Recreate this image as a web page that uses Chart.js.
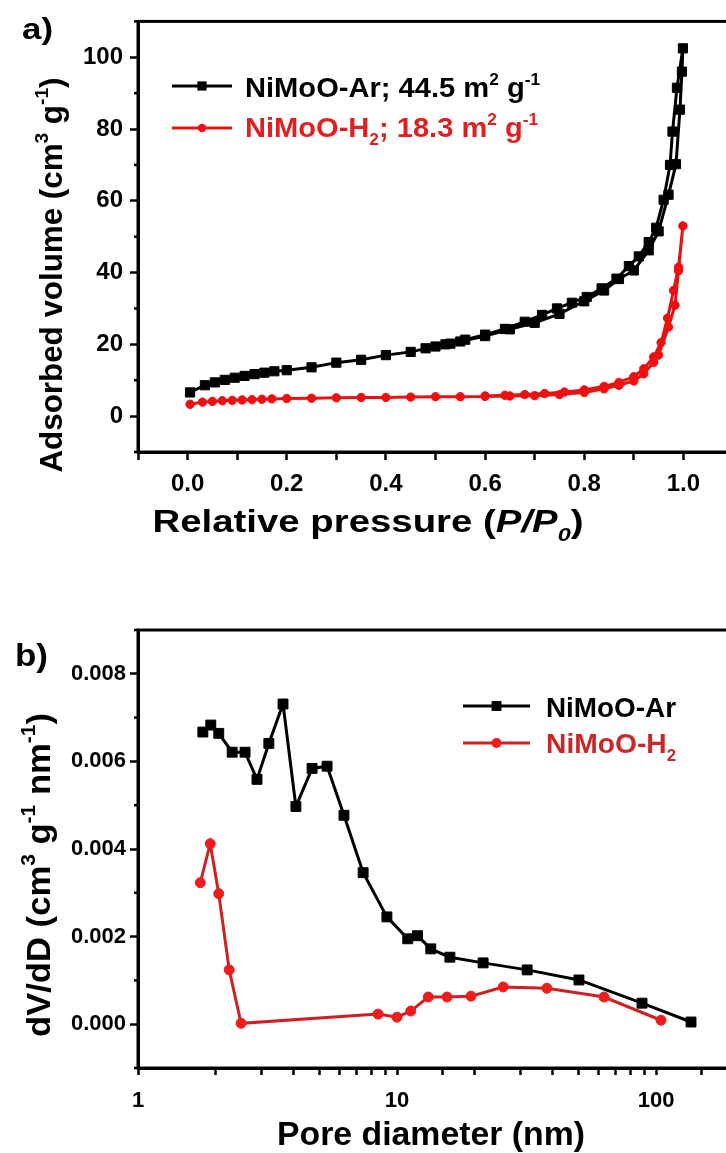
<!DOCTYPE html>
<html>
<head>
<meta charset="utf-8">
<script src="https://cdn.jsdelivr.net/npm/chart.js@4.4.1/dist/chart.umd.min.js"></script>
<style>
  html, body { margin: 0; padding: 0; background: #fff; overflow: hidden; }
  #wrap { position: relative; width: 726px; height: 1153px; overflow: hidden; }
  canvas { position: absolute; left: 0; }
  #chartA { top: 0; }
  #chartB { top: 580px; }
</style>
</head>
<body>
<div id="wrap">
  <canvas id="chartA" width="760" height="580"></canvas>
  <canvas id="chartB" width="760" height="573"></canvas>
</div>
<script>
// a) N2 isotherms, relative pressure vs adsorbed volume
var arAdsP = [0.005,0.035,0.055,0.075,0.095,0.115,0.135,0.155,0.175,0.20,0.25,0.30,0.35,0.40,0.45,0.50,0.53,0.55,0.60,0.65,0.70,0.75,0.80,0.84,0.87,0.90,0.93,0.95,0.97,0.985,0.993,0.997,0.999];
var arAdsV = [6.6,8.6,9.4,10.1,10.7,11.2,11.7,12.1,12.5,12.8,13.6,14.9,15.7,17.0,17.9,19.4,20.2,20.8,22.3,24.2,26.0,28.5,32.0,35.0,38.2,40.6,46.2,51.5,61.7,70.2,85.4,96.0,102.5];
var arDesP = [0.987,0.978,0.973,0.96,0.945,0.93,0.91,0.89,0.865,0.835,0.805,0.775,0.745,0.715,0.68,0.64,0.60,0.56,0.52,0.48];
var arDesV = [91.5,79.3,70.0,60.3,52.5,48.5,44.5,41.8,38.3,35.6,33.2,31.6,30.0,28.2,26.3,24.3,22.7,21.3,20.0,18.9];

var h2AdsP = [0.005,0.03,0.05,0.07,0.09,0.11,0.13,0.15,0.17,0.20,0.25,0.30,0.35,0.40,0.45,0.50,0.55,0.60,0.65,0.70,0.75,0.80,0.84,0.87,0.90,0.92,0.94,0.95,0.97,0.983,0.99,0.999];
var h2AdsV = [3.3,3.9,4.1,4.3,4.4,4.5,4.6,4.7,4.8,4.9,5.0,5.1,5.2,5.2,5.3,5.4,5.4,5.5,5.6,5.7,6.0,6.6,7.6,8.6,9.8,11.8,15.0,17.0,24.8,30.9,40.5,53.0];
var h2DesP = [0.99,0.98,0.968,0.955,0.94,0.92,0.90,0.87,0.84,0.80,0.76,0.72,0.68,0.64,0.60];
var h2DesV = [41.5,35.0,27.3,20.5,16.5,13.2,11.0,9.4,8.3,7.3,6.7,6.3,6.0,5.8,5.6];

// b) pore size distribution
var poreAr = [1.78,1.91,2.05,2.31,2.59,2.88,3.2,3.63,4.07,4.7,5.37,6.24,7.4,9.14,11.0,12.0,13.5,16.0,21.5,31.8,50.4,88.3,136.5];
var dvAr = [0.00667,0.00683,0.00664,0.00621,0.00621,0.00559,0.00641,0.00731,0.00497,0.00584,0.00589,0.00477,0.00346,0.00245,0.00195,0.00202,0.00172,0.00153,0.00140,0.00124,0.00101,0.00048,0.00005];
var poreH2 = [1.74,1.90,2.05,2.25,2.5,8.45,10.0,11.3,13.2,15.6,19.3,25.7,37.9,63,104.5];
var dvH2 = [0.00323,0.00412,0.00298,0.00124,0.00002,0.00023,0.00016,0.00030,0.00062,0.00062,0.00064,0.00085,0.00082,0.00062,0.00009];

// tick labels
var pressureLabels = ['0.0','0.2','0.4','0.6','0.8','1.0'];
var volumeLabels = ['0','20','40','60','80','100'];
var poreLabels = [1, 10, 100];
var dvLabels = ['0.000','0.002','0.004','0.006','0.008'];

var FONT = '"Liberation Sans", Arial, Helvetica, sans-serif';
Chart.defaults.font.family = FONT;
Chart.defaults.font.weight = 'bold';
Chart.defaults.color = '#000';

function pts(xs, ys) {
  return xs.map(function (x, i) { return { x: x, y: ys[i] }; });
}

// text with super/subscripts: s=1 sup, s=-1 sub, i=italic
function richText(ctx, segs, x, y, o) {
  var size = o.size;
  function fontOf(s) {
    var sz = s.s ? Math.round(size * 0.6) : size;
    return (s.i ? 'italic ' : '') + 'bold ' + sz + 'px ' + FONT;
  }
  var total = 0;
  segs.forEach(function (s) { ctx.font = fontOf(s); total += ctx.measureText(s.t).width; });
  var sx = o.w ? o.w / total : 1;
  ctx.save();
  ctx.translate(x, y);
  if (o.rotate) ctx.rotate(-Math.PI / 2);
  ctx.scale(sx, 1);
  ctx.fillStyle = o.color || '#000';
  ctx.textBaseline = 'alphabetic';
  ctx.textAlign = 'left';
  var cx = o.align === 'center' ? -total / 2 : 0;
  segs.forEach(function (s) {
    ctx.font = fontOf(s);
    var dy = s.s === 1 ? -size * 0.45 : (s.s === -1 ? size * 0.28 : 0);
    ctx.fillText(s.t, cx, dy);
    cx += ctx.measureText(s.t).width;
  });
  ctx.restore();
}

function marker(ctx, style, x, y, r, color) {
  ctx.fillStyle = color;
  ctx.beginPath();
  if (style === 'rect') {
    var h = r * Math.SQRT1_2;
    ctx.rect(x - h, y - h, 2 * h, 2 * h);
  } else {
    ctx.arc(x, y, r, 0, Math.PI * 2);
  }
  ctx.fill();
}

// frame, short minor ticks on y, titles, panel label, legend
function decor(cfg) {
  return {
    id: 'decor',
    afterDraw: function (chart) {
      var ctx = chart.ctx, a = chart.chartArea;
      ctx.save();
      ctx.strokeStyle = '#000';
      ctx.lineWidth = 3;
      ctx.strokeRect(a.left, a.top, a.right - a.left, a.bottom - a.top);
      var ys = chart.scales.y;
      ctx.lineWidth = 2.5;
      ys.ticks.forEach(function (t) {
        if (!cfg.yMajor(t.value)) {
          var py = ys.getPixelForValue(t.value);
          ctx.beginPath();
          ctx.moveTo(a.left - 4, py);
          ctx.lineTo(a.left, py);
          ctx.stroke();
        }
      });
      ctx.restore();

      cfg.texts.forEach(function (t) { richText(ctx, t.segs, t.x, t.y, t); });

      cfg.legend.forEach(function (l, i) {
        var ds = chart.data.datasets[i];
        ctx.save();
        ctx.strokeStyle = ds.borderColor;
        ctx.lineWidth = 3;
        ctx.beginPath();
        ctx.moveTo(l.x0, l.y);
        ctx.lineTo(l.x1, l.y);
        ctx.stroke();
        marker(ctx, ds.pointStyle, (l.x0 + l.x1) / 2, l.y, ds.pointRadius, ds.pointBackgroundColor);
        ctx.restore();
        richText(ctx, l.segs, l.tx, l.ty, { size: l.size, w: l.w, color: l.color });
      });
    }
  };
}

function axisOpts(extra) {
  return Object.assign({
    border: { display: true, width: 3, color: '#000' },
    grid: { display: true, drawOnChartArea: false, drawTicks: true, tickLength: 8, tickWidth: 2.5, tickColor: '#000' }
  }, extra);
}

// ---------- chart a ----------
var isVolMajor = function (v) { var k = Math.round(v / 10); return k % 2 === 0 && k >= 0 && k <= 10; };

var chartA = new Chart(document.getElementById('chartA'), {
  type: 'scatter',
  data: {
    datasets: [{
      label: 'NiMoO-Ar',
      data: pts(arAdsP.concat(arDesP), arAdsV.concat(arDesV)),
      showLine: true,
      borderColor: '#000',
      borderWidth: 3,
      pointStyle: 'rect',
      pointRadius: 6.5,
      pointBackgroundColor: '#000',
      pointBorderColor: '#000',
      pointBorderWidth: 1
    }, {
      label: 'NiMoO-H2',
      data: pts(h2AdsP.concat(h2DesP), h2AdsV.concat(h2DesV)),
      showLine: true,
      borderColor: '#e51414',
      borderWidth: 3,
      pointStyle: 'circle',
      pointRadius: 4.2,
      pointBackgroundColor: '#ee1010',
      pointBorderColor: '#ee1010',
      pointBorderWidth: 1
    }]
  },
  options: {
    responsive: false,
    animation: false,
    layout: { padding: { top: 15, right: 27, bottom: 0, left: 0 } },
    plugins: { legend: { display: false }, tooltip: { enabled: false } },
    scales: {
      x: axisOpts({
        type: 'linear', min: -0.1, max: 1.1,
        afterFit: function (s) { s.height = 128; },
        ticks: {
          stepSize: 0.1, autoSkip: false, maxRotation: 0, padding: 10,
          font: { size: 24, weight: 'bold' },
          callback: function (v) {
            var k = Math.round(v * 10);
            return (k % 2 === 0 && k >= 0 && k <= 10) ? pressureLabels[k / 2] : '';
          }
        }
      }),
      y: axisOpts({
        type: 'linear', min: -10, max: 110,
        afterFit: function (s) { s.width = 138; },
        grid: { display: true, drawOnChartArea: false, drawTicks: true, tickLength: 8, tickWidth: 2.5,
          tickColor: function (c) { return isVolMajor(c.tick.value) ? '#000' : 'rgba(0,0,0,0)'; } },
        ticks: {
          stepSize: 10, autoSkip: false, padding: 7,
          font: { size: 24, weight: 'bold' },
          callback: function (v) { return isVolMajor(v) ? volumeLabels[Math.round(v / 20)] : ''; }
        }
      })
    }
  },
  plugins: [decor({
    yMajor: isVolMajor,
    texts: [
      { segs: [{ t: 'a)' }], x: 22, y: 39, size: 30, w: 31 },
      { segs: [{ t: 'Adsorbed volume (cm' }, { t: '3', s: 1 }, { t: ' g' }, { t: '-1', s: 1 }, { t: ')' }],
        x: 62, y: 275, size: 31, w: 395, rotate: true, align: 'center' },
      { segs: [{ t: 'Relative pressure (' }, { t: 'P/P', i: true }, { t: '0', s: -1, i: true }, { t: ')' }],
        x: 368, y: 532, size: 31, w: 431, align: 'center' }
    ],
    legend: [
      { x0: 172, x1: 232, y: 86, tx: 245, ty: 97, size: 27, w: 295, color: '#000',
        segs: [{ t: 'NiMoO-Ar; 44.5 m' }, { t: '2', s: 1 }, { t: ' g' }, { t: '-1', s: 1 }] },
      { x0: 172, x1: 232, y: 128, tx: 245, ty: 137, size: 27, w: 293, color: '#e02020',
        segs: [{ t: 'NiMoO-H' }, { t: '2', s: -1 }, { t: '; 18.3 m' }, { t: '2', s: 1 }, { t: ' g' }, { t: '-1', s: 1 }] }
    ]
  })]
});

// ---------- chart b ----------
var isDvMajor = function (v) { var k = Math.round(v * 1000); return k % 2 === 0 && k >= 0 && k <= 8; };

var chartB = new Chart(document.getElementById('chartB'), {
  type: 'scatter',
  data: {
    datasets: [{
      label: 'NiMoO-Ar',
      data: pts(poreAr, dvAr),
      showLine: true,
      borderColor: '#000',
      borderWidth: 3,
      pointStyle: 'rect',
      pointRadius: 7,
      pointBackgroundColor: '#000',
      pointBorderColor: '#000',
      pointBorderWidth: 1
    }, {
      label: 'NiMoO-H2',
      data: pts(poreH2, dvH2),
      showLine: true,
      borderColor: '#cc2222',
      borderWidth: 3,
      pointStyle: 'circle',
      pointRadius: 5,
      pointBackgroundColor: '#ee1c1c',
      pointBorderColor: '#ee1c1c',
      pointBorderWidth: 1
    }]
  },
  options: {
    responsive: false,
    animation: false,
    layout: { padding: { top: 50, right: 26, bottom: 0, left: 0 } },
    plugins: { legend: { display: false }, tooltip: { enabled: false } },
    scales: {
      x: axisOpts({
        type: 'logarithmic', min: 1, max: 200,
        afterFit: function (s) { s.height = 85; },
        grid: { display: true, drawOnChartArea: false, drawTicks: true, tickLength: 7, tickWidth: 2.5, tickColor: '#000' },
        ticks: {
          autoSkip: false, maxRotation: 0, padding: 13,
          font: { size: 22, weight: 'bold' },
          callback: function (v) { return poreLabels.indexOf(v) >= 0 ? String(v) : ''; }
        }
      }),
      y: axisOpts({
        type: 'linear', min: -0.001, max: 0.009,
        afterFit: function (s) { s.width = 138; },
        grid: { display: true, drawOnChartArea: false, drawTicks: true, tickLength: 8, tickWidth: 2.5,
          tickColor: function (c) { return isDvMajor(c.tick.value) ? '#000' : 'rgba(0,0,0,0)'; } },
        ticks: {
          stepSize: 0.001, autoSkip: false, padding: 4,
          font: { size: 22, weight: 'bold' },
          callback: function (v) { return isDvMajor(v) ? dvLabels[Math.round(v * 500)] : ''; }
        }
      })
    }
  },
  plugins: [decor({
    yMajor: isDvMajor,
    texts: [
      { segs: [{ t: 'b)' }], x: 15, y: 86, size: 31, w: 33 },
      { segs: [{ t: 'dV/dD (cm' }, { t: '3', s: 1 }, { t: ' g' }, { t: '-1', s: 1 }, { t: ' nm' }, { t: '-1', s: 1 }, { t: ')' }],
        x: 50, y: 295, size: 33, w: 324, rotate: true, align: 'center' },
      { segs: [{ t: 'Pore diameter (nm)' }], x: 431, y: 565, size: 34, w: 308, align: 'center' }
    ],
    legend: [
      { x0: 463, x1: 530, y: 126, tx: 546, ty: 137, size: 27, w: 130, color: '#000',
        segs: [{ t: 'NiMoO-Ar' }] },
      { x0: 463, x1: 530, y: 163, tx: 546, ty: 173, size: 27, w: 130, color: '#c82828',
        segs: [{ t: 'NiMoO-H' }, { t: '2', s: -1 }] }
    ]
  })]
});
</script>
</body>
</html>
